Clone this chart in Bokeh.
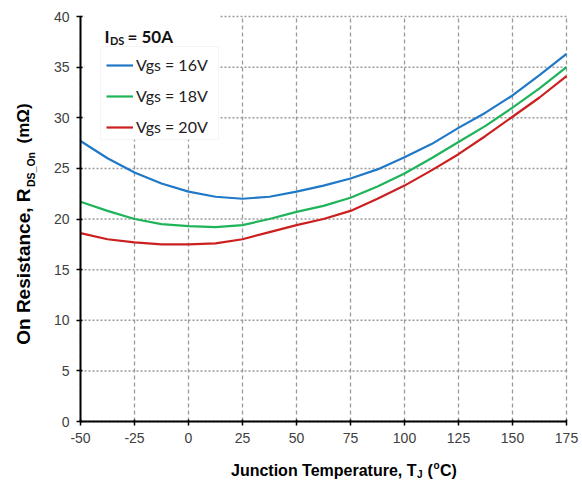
import math
from bokeh.plotting import figure
from bokeh.models import (FixedTicker, Label, Legend, LegendItem, BoxAnnotation)
from bokeh.embed import file_html
from bokeh.resources import INLINE

# ---- data ----
temps = [-50, -37.5, -25, -12.5, 0, 12.5, 25, 37.5, 50, 62.5, 75, 87.5,
         100, 112.5, 125, 137.5, 150, 162.5, 175]
vgs16 = [27.7, 26.0, 24.6, 23.5, 22.7, 22.2, 22.0, 22.2, 22.7, 23.3, 24.0, 24.9,
         26.1, 27.4, 29.0, 30.5, 32.2, 34.2, 36.3]
vgs18 = [21.7, 20.8, 20.0, 19.5, 19.3, 19.2, 19.4, 20.0, 20.7, 21.3, 22.1, 23.2,
         24.5, 26.0, 27.6, 29.2, 31.0, 32.9, 35.0]
vgs20 = [18.6, 18.0, 17.7, 17.5, 17.5, 17.6, 18.0, 18.7, 19.4, 20.0, 20.8, 22.0,
         23.3, 24.8, 26.4, 28.2, 30.1, 32.0, 34.1]
series_labels = ["Vgs = 16V", "Vgs = 18V", "Vgs = 20V"]
series_colors = ["#1f78c8", "#1fb35a", "#cc1f1f"]
x_ticks = [-50, -25, 0, 25, 50, 75, 100, 125, 150, 175]
y_ticks = [0, 5, 10, 15, 20, 25, 30, 35, 40]

W, H = 582, 482
FL, FR, FT, FB = 80, 566, 16, 421
X0, X1, Y0, Y1 = -50, 175, 0, 40

def dx(px):
    return X0 + (px - FL) * (X1 - X0) / (FR - FL)

def dy(py):
    return Y0 + (FB - py) * (Y1 - Y0) / (FB - FT)

# the frame covers the whole canvas; axes are pinned at the data edges
p = figure(width=W, height=H, x_range=(dx(0), dx(W)), y_range=(dy(H), dy(0)),
           output_backend="svg", toolbar_location=None,
           min_border=0, min_border_left=0, min_border_right=0,
           min_border_top=0, min_border_bottom=0)
p.outline_line_color = None
p.background_fill_color = "white"
p.grid.visible = False

# grid lines at the tick values
p.segment(x0=x_ticks, y0=[Y0] * len(x_ticks), x1=x_ticks, y1=[Y1] * len(x_ticks),
          line_color="#9a9a9a", line_dash="4 3", line_width=1.3)
p.segment(x0=[X0] * len(y_ticks), y0=y_ticks, x1=[X1] * len(y_ticks), y1=y_ticks,
          line_color="#9a9a9a", line_dash="2 2", line_width=1.5)

for ax, ticks in ((p.xaxis, x_ticks), (p.yaxis, y_ticks)):
    ax.ticker = FixedTicker(ticks=ticks)
    ax.axis_line_width = 2
    ax.axis_line_color = "black"
    ax.major_tick_line_color = "black"
    ax.major_tick_line_width = 1.5
    ax.major_tick_in = 2
    ax.major_tick_out = 4
    ax.minor_tick_line_color = None
    ax.major_label_text_font = "Liberation Sans"
    ax.major_label_text_font_size = "14px"
    ax.major_label_text_color = "#404040"
    ax.major_label_standoff = 7
p.xaxis.fixed_location = Y0
p.xaxis.bounds = (X0, X1)
p.yaxis.fixed_location = X0
p.yaxis.bounds = (Y0, Y1)
p.xaxis.major_label_overrides = {t: str(t) for t in x_ticks}

renderers = []
for vals, col in zip((vgs16, vgs18, vgs20), series_colors):
    r = p.line(temps, vals, line_color=col, line_width=2.2, line_join="round")
    renderers.append(r)

# white area behind the note and legend
p.add_layout(BoxAnnotation(left=dx(84), right=dx(219), top=dy(12), bottom=dy(139),
                           fill_color="white", fill_alpha=1.0, line_color=None,
                           level="annotation"))
p.add_layout(BoxAnnotation(left=dx(100), right=dx(218), top=dy(46), bottom=dy(139),
                           fill_alpha=0.0, line_color="#dcdcdc", line_width=1,
                           level="annotation"))

legend = Legend(items=[LegendItem(label=l, renderers=[r]) for l, r in zip(series_labels, renderers)],
                location=(106, FB - 136 + (H - FB)))
legend.label_text_font = "Lato"
legend.label_text_font_size = "16px"
legend.label_text_color = "#222222"
legend.glyph_width = 27
legend.glyph_height = 18
legend.label_height = 18
legend.label_standoff = 3
legend.spacing = 12
legend.padding = 0
legend.margin = 0
legend.border_line_color = None
legend.background_fill_alpha = 0.0
p.add_layout(legend, "center")

def lab(text, px, py, size, bold=True, font="Liberation Sans", angle=0.0,
        color="black", baseline="alphabetic", align="left"):
    p.add_layout(Label(x=dx(px), y=dy(py), text=text, text_font=font,
                       text_font_size=f"{size}px",
                       text_font_style="bold" if bold else "normal",
                       text_color=color, angle=angle,
                       text_align=align, text_baseline=baseline))

# note: I_DS = 50A
lab("I", 104, 36, 17, font="Lato", color="#111111")
lab("DS", 109.5, 40, 11, font="Lato", color="#111111")
lab("= 50A", 127, 36, 17, font="Lato", color="#111111")

# x-axis title: Junction Temperature, T_J (ºC)
m = "middle"
lab("Junction Temperature, T", 416, 470, 16, baseline=m, align="right")
lab("J", 416.5, 474, 10, baseline=m)
lab("(", 427, 470, 16, baseline=m)
lab("o", 433, 464.5, 10, baseline=m)
lab("C)", 439.5, 470, 16, baseline=m)

# y-axis title: On Resistance, R_DS_On  (mΩ)
a = math.pi / 2
lab("On Resistance, R", 22.5, 188, 19, angle=a, baseline=m, align="right")
lab("DS_On", 30, 186.5, 10.5, angle=a, baseline=m)
lab("(m\u03a9)", 22.5, 143, 17, angle=a, baseline=m)

open("out.html", "w").write(file_html(p, INLINE))
